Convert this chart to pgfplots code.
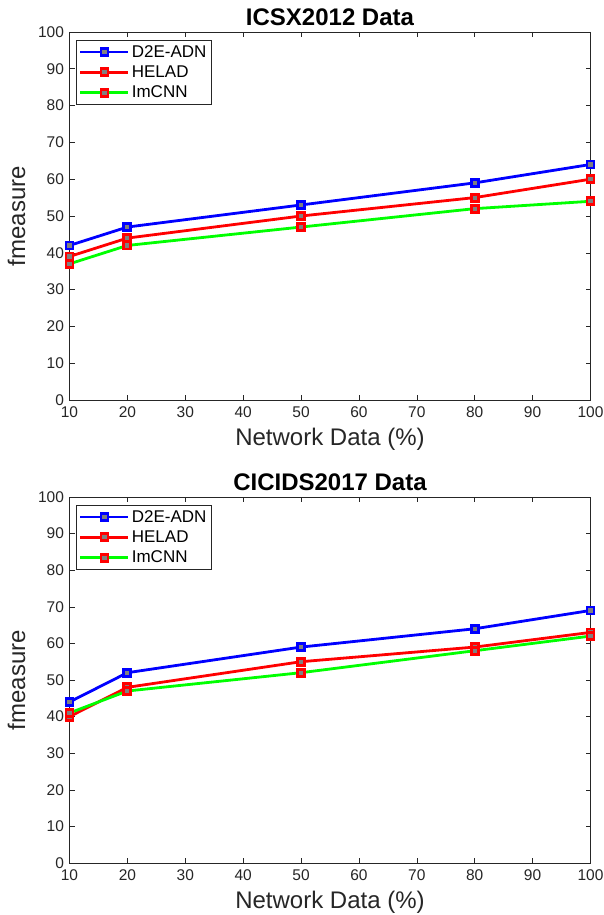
\documentclass[border=0pt]{standalone}
\usepackage{fontspec}
\setmainfont{Liberation Sans}
\usepackage{pgfplots}
\pgfplotsset{compat=1.18}
\definecolor{axgray}{gray}{0.15}
\begin{document}
\begin{tikzpicture}
\useasboundingbox (0pt,0pt) rectangle (603pt,-915pt);
\pgfplotsset{myax/.style={
  scale only axis, width=521pt, height=368pt,
  xmin=10, xmax=100, ymin=0, ymax=100,
  xtick={10,20,...,100}, ytick={0,10,...,100},
  tick align=inside, major tick length=5pt,
  axis line style={axgray, line width=0.6pt},
  tick style={axgray, line width=0.6pt},
  ticklabel style={font=\fontsize{15.5}{17}\selectfont, text=axgray},
  xticklabel style={yshift=-3pt},
  yticklabel style={xshift=-2pt},
  /pgf/number format/assume math mode=true,
  xlabel={Network Data (\%)}, ylabel={fmeasure},
  label style={font=\fontsize{24}{26}\selectfont, text=axgray},
  xlabel style={yshift=-4pt},
  ylabel style={yshift=6pt},
  title style={font=\bfseries\fontsize{24}{26}\selectfont, yshift=-3pt},
  legend style={at={(0.012,0.978)}, anchor=north west,
    font=\fontsize{17}{19}\selectfont, draw=axgray, line width=0.6pt,
    row sep=3pt, inner ysep=3pt},
  legend cell align=left,
  legend image code/.code={\draw[mark repeat=2,mark phase=2]
    plot coordinates {(0pt,0pt) (24pt,0pt) (48pt,0pt)};},
  every axis plot/.append style={line width=2.8pt, mark=square*, mark size=3.5pt},
}}
\begin{axis}[myax, at={(69.5pt,-32pt)}, anchor=north west, title={ICSX2012 Data}]
\addplot[blue, mark options={draw=blue, fill=gray}] coordinates {(10,42) (20,47) (50,53) (80,59) (100,64)};
\addplot[red, mark options={draw=red, fill=gray}] coordinates {(10,39) (20,44) (50,50) (80,55) (100,60)};
\addplot[green, mark options={draw=red, fill=gray}] coordinates {(10,37) (20,42) (50,47) (80,52) (100,54)};
\legend{D2E-ADN, HELAD, ImCNN}
\end{axis}
\begin{axis}[myax, at={(69.5pt,-497pt)}, anchor=north west, height=366pt, title={CICIDS2017 Data}]
\addplot[blue, mark options={draw=blue, fill=gray}] coordinates {(10,44) (20,52) (50,59) (80,64) (100,69)};
\addplot[red, mark options={draw=red, fill=gray}] coordinates {(10,40) (20,48) (50,55) (80,59) (100,63)};
\addplot[green, mark options={draw=red, fill=gray}] coordinates {(10,41) (20,47) (50,52) (80,58) (100,62)};
\legend{D2E-ADN, HELAD, ImCNN}
\end{axis}
\end{tikzpicture}
\end{document}
